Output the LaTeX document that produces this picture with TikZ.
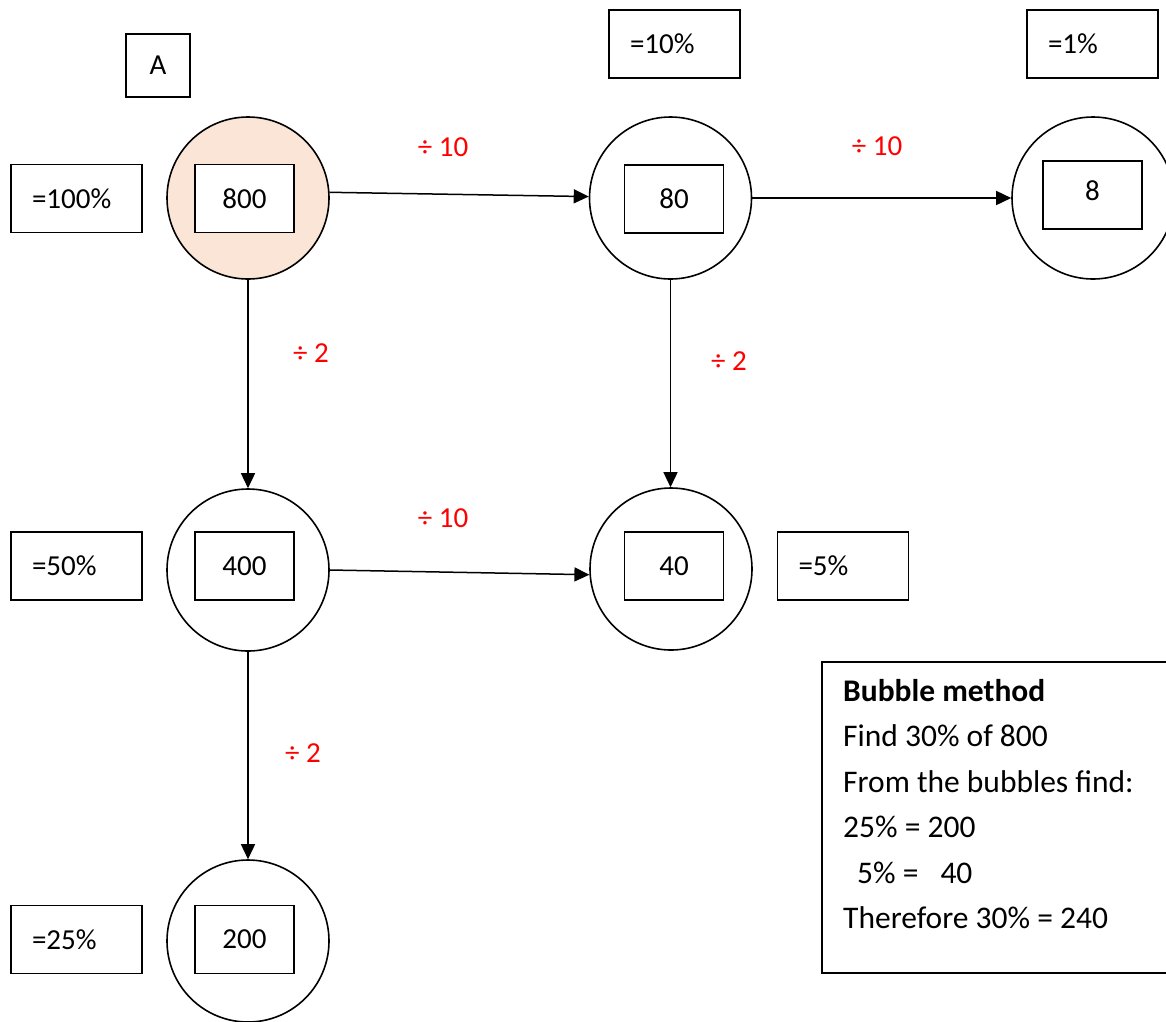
\documentclass[tikz,border=0pt]{standalone}
\usepackage{fontspec}
\setmainfont{Carlito}
\usetikzlibrary{arrows.meta}
\definecolor{peach}{RGB}{251,229,214}
\definecolor{redlbl}{RGB}{255,0,0}
\tikzset{
  bubble/.style={circle, draw, line width=1.6pt, minimum size=162pt, inner sep=0pt},
  numbox/.style={rectangle, draw, line width=1.6pt, minimum width=99pt, minimum height=68pt, inner sep=0pt, fill=white,
    font=\fontsize{29}{34}\selectfont},
  pctbox/.style={rectangle, draw, line width=1.6pt, minimum height=68pt, text width=89pt, inner xsep=21pt, inner ysep=0pt, align=left,
    font=\fontsize{29}{34}\selectfont},
  oplabel/.style={text=redlbl, font=\fontsize{29}{34}\selectfont, inner sep=0pt},
  conn/.style={line width=1.5pt, -{Triangle[length=15pt,width=14pt]}},
  infoline/.style={anchor=base west, inner sep=0pt, font=\fontsize{31.5}{38}\selectfont},
}
\begin{document}
\begin{tikzpicture}[x=1pt,y=-1pt]
\useasboundingbox (0,0) rectangle (1166,1021);
\clip (0,0) rectangle (1166,1021);
\fill[white] (0,0) rectangle (1166,1021);

% letter box
\node[rectangle, draw, line width=1.6pt, minimum width=64pt, minimum height=63pt, inner sep=0pt,
      font=\fontsize{29}{34}\selectfont] (A) at (158,65.5) {A};

% bubbles
\node[bubble, fill=peach] (c800) at (248,198) {};
\node[bubble] (c80) at (670.5,198) {};
\node[bubble] (c8) at (1093,198) {};
\node[bubble] (c400) at (248,570) {};
\node[bubble] (c40) at (671,569) {};
\node[bubble] (c200) at (248,941) {};

% number boxes
\node[numbox] (b800) at (244.5,198.5) {800};
\node[numbox] (b80) at (674,199) {80};
\node[numbox, text depth=8pt] (b8) at (1092.5,195) {8};
\node[numbox] (b400) at (244.5,566) {400};
\node[numbox] (b40) at (674,566) {40};
\node[numbox] (b200) at (244.5,939.5) {200};

% percentage boxes
\node[pctbox] (p100) at (76.5,198.5) {=100\%};
\node[pctbox] (p50) at (76.5,566) {=50\%};
\node[pctbox] (p25) at (76.5,939.5) {=25\%};
\node[pctbox] (p10) at (674.5,44) {=10\%};
\node[pctbox] (p1) at (1092.5,44) {=1\%};
\node[pctbox] (p5) at (843,566) {=5\%};

% connectors
\draw[conn] (c800.4) -- (c80.179);
\draw[conn] (c80.east) -- (c8.west);
\draw[conn] (c800.south) -- (c400.north);
\draw[conn] (c80.south) -- (c80.south |- c40.north);
\draw[conn] (c400.east) -- (c40.184);
\draw[conn] (c400.south) -- (c200.north);

% operation labels
\node[oplabel] (o1) at (443,147) {÷ 10};
\node[oplabel] (o2) at (877,146) {÷ 10};
\node[oplabel] (o3) at (443,518) {÷ 10};
\node[oplabel] (o4) at (311,353) {÷ 2};
\node[oplabel] (o5) at (729,361) {÷ 2};
\node[oplabel] (o6) at (303,753) {÷ 2};

% info box
\draw[line width=1.6pt] (1180,662) -- (822,662) -- (822,973) -- (1180,973);
\node[infoline, font=\fontsize{31.5}{38}\selectfont\bfseries] (l1) at (843,701) {Bubble method};
\node[infoline] (l2) at (843,746.5) {Find 30\% of 800};
\node[infoline] (l3) at (843,792) {From the bubbles find:};
\node[infoline] (l4) at (843,837.5) {25\% = 200};
\node[infoline] (l5) at (843,883) {\hspace*{14pt}5\% =\hspace{22pt}40};
\node[infoline] (l6) at (843,928.5) {Therefore 30\% = 240};
\end{tikzpicture}
\end{document}
